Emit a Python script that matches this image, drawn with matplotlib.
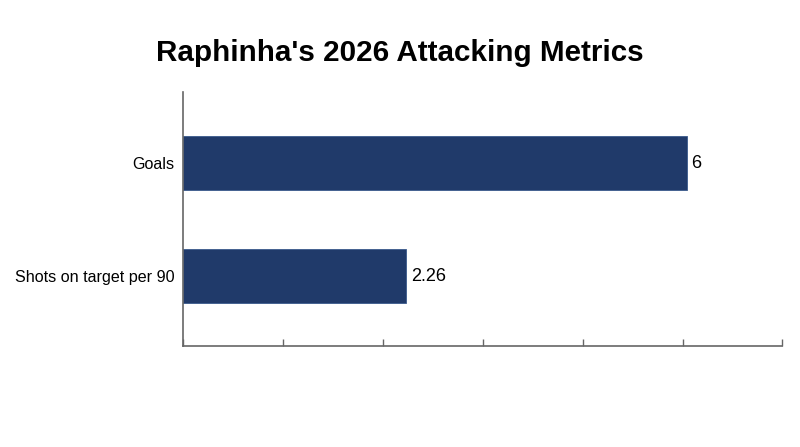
import matplotlib
matplotlib.use('Agg')
import matplotlib.pyplot as plt

plt.rcParams['font.family'] = ['Liberation Sans', 'DejaVu Sans']

metrics = ['Shots on target per 90', 'Goals']
value_labels = ['2.26', '6']
bar_lengths = [2.23, 5.04]   # bar length as drawn, in tick units
tick_positions = [0, 1, 2, 3, 4, 5, 6]

fig, ax = plt.subplots(figsize=(8, 4.47), dpi=100)
fig.subplots_adjust(left=0.229, right=0.978, bottom=0.226, top=0.794)

bars = ax.barh(metrics, bar_lengths, height=0.48, color='#203a6a',
               edgecolor='#3a5a8c', linewidth=0.6)
for b, lab in zip(bars, value_labels):
    ax.text(b.get_width() + 0.05, b.get_y() + b.get_height() / 2, lab,
            va='center', ha='left', fontsize=13)

ax.set_xlim(0, 6)
ax.set_ylim(-0.62, 1.63)
ax.set_xticks(tick_positions)
ax.set_xticklabels([])
ax.tick_params(axis='x', direction='in', length=5, color='#666666', width=1)
ax.tick_params(axis='y', length=0, labelsize=11.6, pad=6)

for s in ['top', 'right']:
    ax.spines[s].set_visible(False)
for s in ['left', 'bottom']:
    ax.spines[s].set_color('#666666')
    ax.spines[s].set_linewidth(1.2)

fig.suptitle("Raphinha's 2026 Attacking Metrics", fontsize=21.3, fontweight='bold',
             x=0.5, y=0.912)

fig.savefig('out.png', dpi=100)
